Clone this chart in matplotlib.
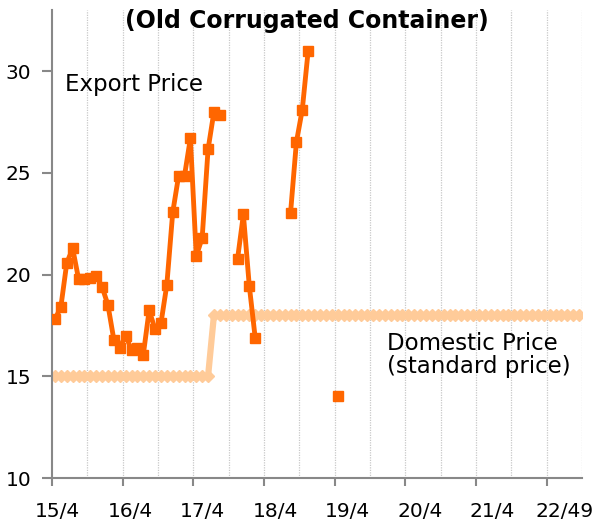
import numpy as np
import matplotlib
matplotlib.use("Agg")
import matplotlib.pyplot as plt

nan = np.nan

# months counted from 2015/4 (index 0)
n_months = 90
export_price = [17.8, 18.4, 20.55, 21.3, 19.8, 19.8, 19.85, 19.95, 19.4, 18.5,
                16.8, 16.4, 17.0, 16.3, 16.4, 16.05, 18.25, 17.3, 17.6, 19.5,
                23.05, 24.85, 24.85, 26.7, 20.9, 21.8, 26.15, 28.0, 27.85, nan,
                nan, 20.75, 22.95, 19.45, 16.9, nan, nan, nan, nan, nan,
                23.0, 26.5, 28.1, 31.0, nan, nan, nan, nan, 14.05]
export_price = export_price + [nan] * (n_months - len(export_price))
domestic_price = [15.0] * 27 + [18.0] * (n_months - 27)

year_labels = ["15/4", "16/4", "17/4", "18/4", "19/4", "20/4", "21/4", "22/49"]

months = np.arange(n_months)

fig = plt.figure(figsize=(6.06, 5.27), dpi=100)
ax = fig.add_axes([52 / 606, 49 / 527, 530 / 606, 468 / 527])

# domestic price (light orange, diamonds)
ax.plot(months, domestic_price, color="#FFCB99", lw=4.5, marker="D", ms=6,
        mec="#FFCB99", zorder=2)
# export price (orange, squares)
ax.plot(months, export_price, color="#FF6600", lw=3.5, marker="s", ms=7,
        mec="#FF6600", zorder=3)

ax.set_xlim(-0.5, n_months - 0.5)
ax.set_ylim(10, 33)

# year boundaries as tick marks, labels placed a bit to the right
tick_pos = [12 * i - 0.5 for i in range(len(year_labels))]
ax.set_xticks(tick_pos)
ax.set_xticklabels([""] * len(tick_pos))
ax.set_xticks([12.3 * i + 0.5 for i in range(len(year_labels))], minor=True)
ax.set_xticklabels(year_labels, minor=True, fontsize=14.5)
ax.tick_params(axis="x", which="major", direction="out", length=6, width=1.5, color="#888888")
ax.tick_params(axis="x", which="minor", length=0, pad=17)

ax.set_yticks([10, 15, 20, 25, 30])
ax.tick_params(axis="y", direction="out", length=7, width=1.5, color="#888888",
               labelsize=14.5, pad=8)

# dotted vertical grid every half year
for gx in np.arange(5.5, n_months, 6):
    ax.axvline(gx, color="#C8C8C8", ls=(0, (1, 1)), lw=0.9, zorder=1)

for side in ["top", "right"]:
    ax.spines[side].set_visible(False)
for side in ["left", "bottom"]:
    ax.spines[side].set_color("#888888")
    ax.spines[side].set_linewidth(1.5)

fig.text(307 / 606, 1 - 21 / 527, "(Old Corrugated Container)", ha="center", va="center",
         fontsize=17, fontweight="bold")
ax.text((65 - 52) / 530, 1 - (84 - 10) / 468, "Export Price", transform=ax.transAxes,
        ha="left", va="center", fontsize=16.5)
ax.text((387 - 52) / 530, 1 - (355 - 10) / 468, "Domestic Price\n(standard price)",
        transform=ax.transAxes, ha="left", va="center", fontsize=16.5, linespacing=0.95)

fig.savefig("out.png", dpi=100)
